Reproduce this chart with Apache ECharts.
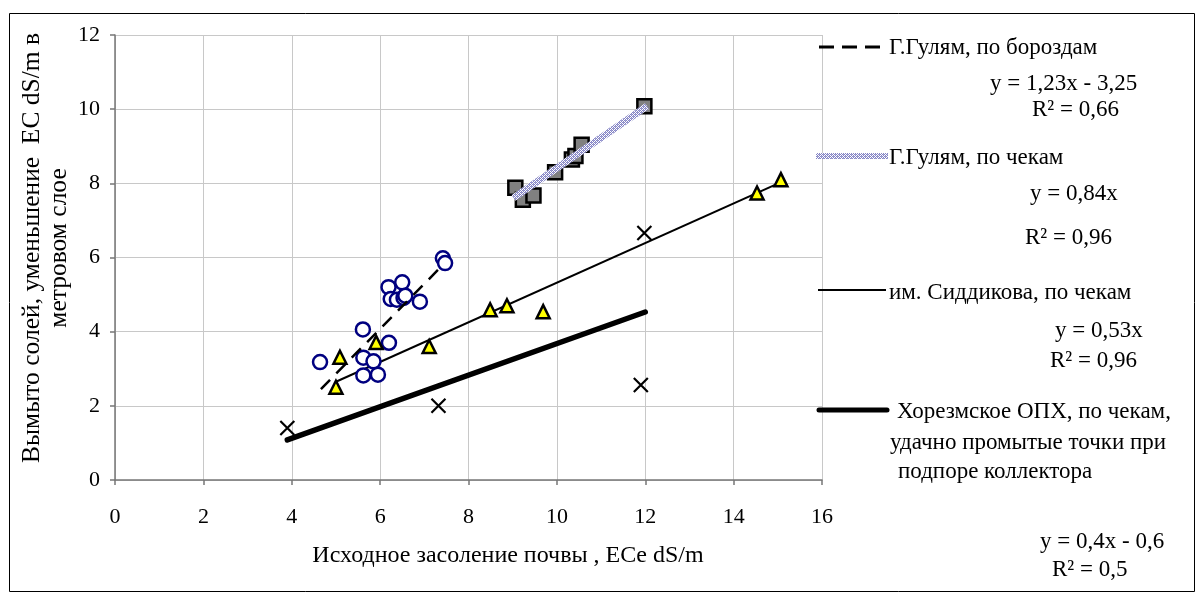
<!DOCTYPE html>
<html>
<head>
<meta charset="utf-8">
<script src="https://cdn.jsdelivr.net/npm/echarts@6/dist/echarts.min.js"></script>
<style>html,body{margin:0;padding:0;background:#fff}#c{width:1203px;height:600px}</style>
</head>
<body>
<div id="c"></div>
<script>
// ---- data ----
const xTicks = [0, 2, 4, 6, 8, 10, 12, 14, 16];
const yTicks = [0, 2, 4, 6, 8, 10, 12];

// Г.Гулям, по бороздам (circles)
const gulyamFurrowX = [4.64, 5.61, 5.62, 5.85, 5.62, 5.95, 6.20, 6.19, 6.50, 6.24, 6.38, 6.53, 6.57, 6.90, 7.42, 7.47];
const gulyamFurrowY = [3.18, 4.06, 3.30, 3.20, 2.82, 2.84, 3.70, 5.20, 5.33, 4.88, 4.86, 4.91, 4.97, 4.81, 5.98, 5.85];
const gulyamFurrowTrendX = [4.66, 7.42];
const gulyamFurrowTrendY = [2.45, 5.80];

// Г.Гулям, по чекам (squares)
const gulyamCheckX = [9.06, 9.23, 9.47, 9.96, 10.34, 10.42, 10.56, 11.98];
const gulyamCheckY = [7.88, 7.56, 7.67, 8.30, 8.64, 8.74, 9.04, 10.08];
const gulyamCheckTrendX = [9.02, 12.04];
const gulyamCheckTrendY = [7.61, 10.08];

// им. Сиддикова, по чекам (triangles)
const siddikovX = [5.00, 5.09, 5.91, 7.11, 8.49, 8.87, 9.69, 14.53, 15.07];
const siddikovY = [2.50, 3.31, 3.71, 3.60, 4.59, 4.70, 4.54, 7.74, 8.10];
const siddikovTrendX = [5.00, 15.05];
const siddikovTrendY = [2.65, 8.02];

// Хорезмское ОПХ (crosses)
const khorezmX = [3.90, 7.32, 11.98, 11.90];
const khorezmY = [1.40, 2.00, 6.66, 2.56];
const khorezmTrendX = [3.90, 12.00];
const khorezmTrendY = [1.08, 4.53];

const legendNames = ['Г.Гулям, по бороздам', 'Г.Гулям, по чекам', 'им. Сиддикова, по чекам',
  'Хорезмское ОПХ, по чекам,', 'удачно промытые точки при', 'подпоре коллектора'];
const equations = ['y = 1,23x - 3,25', 'R² = 0,66', 'y = 0,84x', 'R² = 0,96', 'y = 0,53x', 'R² = 0,96', 'y = 0,4x - 0,6', 'R² = 0,5'];
const xTitle = 'Исходное засоление почвы , ECe dS/m';
const yTitle = 'Вымыто солей, уменьшение  EC dS/m в\nметровом слое';

const zip = (xs, ys) => xs.map((x, i) => [x, ys[i]]);

// hatched lavender pattern
const pc = document.createElement('canvas');
pc.width = 4; pc.height = 4;
const pctx = pc.getContext('2d');
pctx.fillStyle = '#ffffff'; pctx.fillRect(0, 0, 4, 4);
pctx.fillStyle = '#8484c4';
[[0,0],[2,0],[1,1],[3,1],[0,2],[2,2],[1,3],[3,3]].forEach(p => pctx.fillRect(p[0], p[1], 1, 1));
pctx.fillStyle = '#a4a4d8';
[[1,0],[3,2]].forEach(p => pctx.fillRect(p[0], p[1], 1, 1));
const hatch = { image: pc, repeat: 'repeat' };

const FONT = 'Liberation Serif, Times New Roman, serif';
const chart = echarts.init(document.getElementById('c'), null, { renderer: 'canvas' });

function txt(text, x, y, size) {
  return { type: 'text', x: x, y: y, z: 10,
    style: { text: text, font: (size || 23) + 'px ' + FONT, fill: '#000', textAlign: 'left', textVerticalAlign: 'middle' } };
}

const option = {
  backgroundColor: '#fff',
  animation: false,
  grid: { left: 115, right: 381, top: 35, bottom: 120, containLabel: false },
  xAxis: {
    type: 'value', min: xTicks[0], max: xTicks[xTicks.length - 1], interval: 2,
    axisLine: { show: true, onZero: false, lineStyle: { color: '#777', width: 1.5 } },
    axisTick: { show: true, inside: false, length: 5, lineStyle: { color: '#777', width: 1.5 } },
    axisLabel: { color: '#000', fontFamily: FONT, fontSize: 22, margin: 26 },
    splitLine: { show: true, lineStyle: { color: '#c8c8c8', width: 1 } }
  },
  yAxis: {
    type: 'value', min: yTicks[0], max: yTicks[yTicks.length - 1], interval: 2,
    axisLine: { show: true, onZero: false, lineStyle: { color: '#777', width: 1.5 } },
    axisTick: { show: true, inside: false, length: 5, lineStyle: { color: '#777', width: 1.5 } },
    axisLabel: { color: '#000', fontFamily: FONT, fontSize: 22, margin: 15 },
    splitLine: { show: true, lineStyle: { color: '#c8c8c8', width: 1 } }
  },
  series: [
    { type: 'scatter', name: legendNames[0], data: zip(gulyamFurrowX, gulyamFurrowY), symbol: 'circle', symbolSize: 14,
      itemStyle: { color: '#fff', borderColor: '#000080', borderWidth: 2.5, opacity: 1 }, z: 3 },
    { type: 'scatter', name: legendNames[1], data: zip(gulyamCheckX, gulyamCheckY), symbol: 'rect', symbolSize: 14,
      itemStyle: { color: '#808080', borderColor: '#000', borderWidth: 2.5, opacity: 1 }, z: 3 },
    { type: 'scatter', name: legendNames[2], data: zip(siddikovX, siddikovY), symbol: 'triangle', symbolSize: 13,
      itemStyle: { color: '#ffff00', borderColor: '#000', borderWidth: 2.5, opacity: 1 }, z: 3 },
    { type: 'scatter', name: legendNames[3], data: zip(khorezmX, khorezmY), symbol: 'path://M0,0L10,10M10,0L0,10', symbolSize: 14,
      itemStyle: { color: 'none', borderColor: '#000', borderWidth: 2.2, opacity: 1 }, z: 3 },
    { type: 'line', data: zip(gulyamFurrowTrendX, gulyamFurrowTrendY), showSymbol: false, symbol: 'none',
      lineStyle: { color: '#000', width: 2.5, type: [13, 9] }, z: 5 },
    { type: 'line', data: zip(gulyamCheckTrendX, gulyamCheckTrendY), showSymbol: false, symbol: 'none',
      lineStyle: { color: hatch, width: 7 }, z: 5 },
    { type: 'line', data: zip(siddikovTrendX, siddikovTrendY), showSymbol: false, symbol: 'none',
      lineStyle: { color: '#000', width: 2 }, z: 2 },
    { type: 'line', data: zip(khorezmTrendX, khorezmTrendY), showSymbol: false, symbol: 'none',
      lineStyle: { color: '#000', width: 5.5, cap: 'round' }, z: 2 }
  ],
  graphic: [
    { type: 'rect', shape: { x: 9.5, y: 13.5, width: 1185, height: 578 }, style: { fill: 'none', stroke: '#000', lineWidth: 1 }, z: 0, silent: true },
    // legend samples
    { type: 'line', shape: { x1: 819, y1: 47, x2: 887, y2: 47 }, style: { stroke: '#000', lineWidth: 3, lineDash: [15, 8] }, z: 10 },
    { type: 'line', shape: { x1: 816, y1: 156, x2: 888, y2: 156 }, style: { stroke: hatch, lineWidth: 6 }, z: 10 },
    { type: 'line', shape: { x1: 818, y1: 290, x2: 886, y2: 290 }, style: { stroke: '#000', lineWidth: 2 }, z: 10 },
    { type: 'line', shape: { x1: 819, y1: 410, x2: 887, y2: 410 }, style: { stroke: '#000', lineWidth: 5, lineCap: 'round' }, z: 10 },
    txt(legendNames[0], 889, 48),
    txt(legendNames[1], 889, 158),
    txt(legendNames[2], 889, 293),
    txt(legendNames[3], 897, 412),
    txt(legendNames[4], 890, 443),
    txt(legendNames[5], 898, 472),
    txt(equations[0], 990, 84),
    txt(equations[1], 1032, 110),
    txt(equations[2], 1030, 194),
    txt(equations[3], 1025, 238),
    txt(equations[4], 1055, 331),
    txt(equations[5], 1050, 361),
    txt(equations[6], 1040, 542),
    txt(equations[7], 1052, 570),
    { type: 'text', z: 10, x: 508, y: 556,
      style: { text: xTitle, font: '24px ' + FONT, fill: '#000', textAlign: 'center', textVerticalAlign: 'middle' } },
    { type: 'text', z: 10, x: 46, y: 248, rotation: Math.PI / 2,
      style: { text: yTitle, font: '25.5px ' + FONT, fill: '#000', textAlign: 'center', textVerticalAlign: 'middle', lineHeight: 27 } }
  ]
};
chart.setOption(option);
</script>
</body>
</html>
